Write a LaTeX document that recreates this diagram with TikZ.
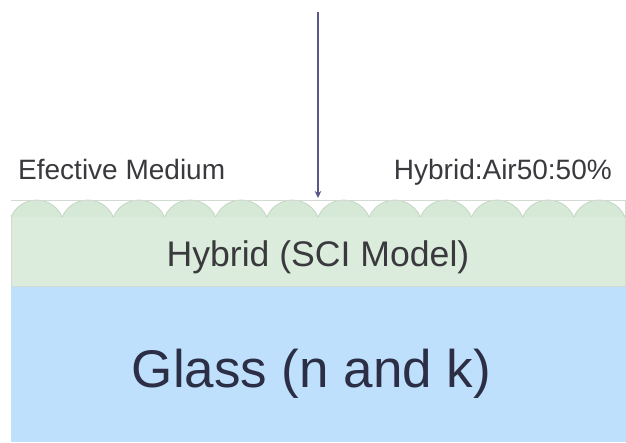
\documentclass[tikz,border=0pt]{standalone}
\usepackage{fontspec}
\setmainfont{Liberation Sans}
\usetikzlibrary{arrows.meta}
\definecolor{bumpfill}{HTML}{D6E8D6}
\definecolor{bumpline}{HTML}{C3D6C3}
\definecolor{hybfill}{HTML}{DCECDC}
\definecolor{hybline}{HTML}{D2DAD2}
\definecolor{glassfill}{HTML}{BEE0FC}
\definecolor{glassline}{HTML}{9CC8EA}
\definecolor{labeltext}{HTML}{3A3A3E}
\definecolor{glasstext}{HTML}{2B2E45}
\definecolor{arrowcol}{HTML}{57578A}
\tikzset{
  lbl/.style={inner sep=0pt, text=labeltext, font=\fontsize{28}{31}\selectfont},
  layer/.style={inner sep=0pt, outer sep=0pt},
  bump/.style={fill=bumpfill, draw=bumpline, line width=0.8pt},
}
\begin{document}
\begin{tikzpicture}[x=1pt,y=-1pt]
\useasboundingbox (0,0) rectangle (626,442);
\fill[white] (0,0) rectangle (626,442);
% glass layer
\node[layer, fill=glassfill, minimum width=615pt, minimum height=156pt] (glass) at (318.5,364) {};
\draw[glassline, line width=1.5pt] (glass.north west) -- (glass.north east);
% top (hybrid + bumps) box
\node[layer, fill=hybfill, draw=hybline, line width=0.8pt, minimum width=614pt, minimum height=86pt] (top) at (318,243) {};
\fill[white] (11.4,200.4) rectangle (624.6,217);
% bumps
\foreach \i in {0,...,11}{
  \pgfmathsetmacro{\xs}{11+\i*51.1667}
  \draw[bump] (\xs,217) arc[start angle=-157.2, end angle=-22.8, radius=27.75];
}
\draw[hybline, line width=0.8pt] (top.north west) -- (top.north east);
% texts
\node[lbl, anchor=base west] (eff) at (18,179) {Efective Medium};
\node[lbl, anchor=base east] (hyb) at (612,179) {Hybrid:Air50:50\%};
\node[inner sep=0pt, text=labeltext, font=\fontsize{35.6}{40}\selectfont, anchor=base] (sci) at (318,266) {Hybrid (SCI Model)};
\node[inner sep=0pt, text=glasstext, font=\fontsize{53}{60}\selectfont, anchor=base] (gtxt) at (311.5,387) {Glass (n and k)};
% arrow
\coordinate (src) at (318,12);
\draw[arrowcol, line width=1.6pt, -{Stealth[length=7pt,width=6.5pt]}] (src) -- ([yshift=2pt]top.north);
\end{tikzpicture}
\end{document}
